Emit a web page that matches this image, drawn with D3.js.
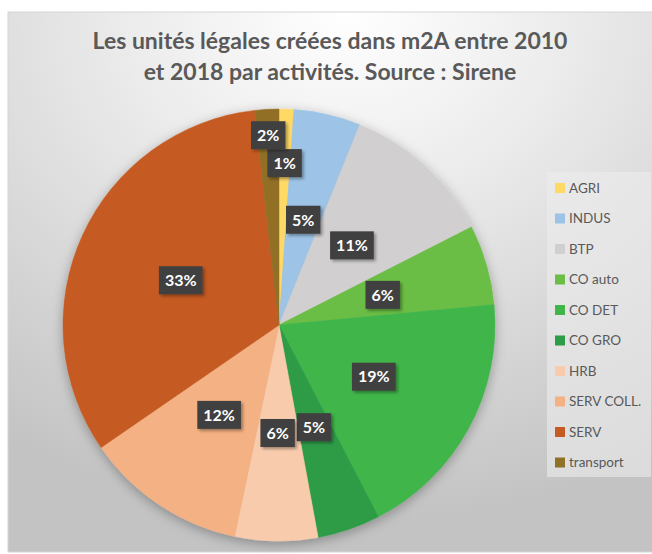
<!DOCTYPE html>
<html>
<head>
<meta charset="utf-8">
<script src="https://cdn.jsdelivr.net/npm/d3@7"></script>
<style>
  body { margin: 0; background: #fff; }
  text { font-family: Lato, "Open Sans", sans-serif; }
</style>
</head>
<body>
<svg width="652" height="554"></svg>
<script>
var categories = ["AGRI", "INDUS", "BTP", "CO auto", "CO DET", "CO GRO", "HRB", "SERV COLL.", "SERV", "transport"];
var values = [1.1, 5.0, 11.4, 6.0, 18.9, 4.7, 6.2, 12.1, 32.8, 1.8];
var colors = ["#ffd966", "#9dc3e6", "#d1cfcf", "#6bbd45", "#3fb54a", "#2d9c46", "#f8cbad", "#f4b183", "#c55a22", "#917028"];
var titleLines = ["Les unités légales créées dans m2A entre 2010", "et 2018 par activités. Source : Sirene"];

var svg = d3.select("svg");
var defs = svg.append("defs");

// chart area background
var bg = defs.append("radialGradient")
    .attr("id", "bg")
    .attr("cx", "52%").attr("cy", "0%").attr("r", "95%");
bg.append("stop").attr("offset", "0%").attr("stop-color", "#ffffff");
bg.append("stop").attr("offset", "35%").attr("stop-color", "#ececec");
bg.append("stop").attr("offset", "100%").attr("stop-color", "#c3c3c3");

var pieShadow = defs.append("filter").attr("id", "pieShadow")
    .attr("x", "-20%").attr("y", "-20%").attr("width", "140%").attr("height", "140%");
pieShadow.append("feDropShadow")
    .attr("dx", 0).attr("dy", 3).attr("stdDeviation", 6)
    .attr("flood-color", "#000").attr("flood-opacity", 0.3);

var boxShadow = defs.append("filter").attr("id", "boxShadow")
    .attr("x", "-30%").attr("y", "-30%").attr("width", "170%").attr("height", "170%");
boxShadow.append("feDropShadow")
    .attr("dx", 2).attr("dy", 2).attr("stdDeviation", 1.5)
    .attr("flood-color", "#000").attr("flood-opacity", 0.35);

svg.append("rect")
    .attr("x", 8).attr("y", 12)
    .attr("width", 652).attr("height", 540)
    .attr("fill", "url(#bg)")
    .attr("stroke", "#d6d6d6");

// title
svg.append("g").selectAll("text")
    .data(titleLines)
  .enter().append("text")
    .attr("x", 330)
    .attr("y", function(d, i) { return 49 + i * 31; })
    .attr("text-anchor", "middle")
    .attr("font-size", 23)
    .attr("font-weight", "bold")
    .attr("fill", "#595959")
    .text(function(d) { return d; });

// pie
var cx = 279, cy = 325, R = 216;
var total = d3.sum(values);
var pie = d3.pie().sort(null).value(function(d) { return d; });
var arcs = pie(values);
var arc = d3.arc().innerRadius(0).outerRadius(R);

var g = svg.append("g").attr("transform", "translate(" + cx + "," + cy + ")");

g.append("g")
    .attr("filter", "url(#pieShadow)")
  .selectAll("path")
    .data(arcs)
  .enter().append("path")
    .attr("d", arc)
    .attr("fill", function(d, i) { return colors[i]; })
    .attr("stroke", function(d, i) { return colors[i]; })
    .attr("stroke-width", 0.5);

// data labels: middle of the slice, tiny slices pushed out (best fit)
function labelRadius(d) {
  var share = d.value / total;
  if (share < 0.015) return 0.75 * R;
  if (share < 0.025) return 0.88 * R;
  return 0.5 * R;
}
var fmt = d3.format(".0%");

var lab = g.selectAll("g.lab")
    .data(arcs)
  .enter().append("g")
    .attr("class", "lab")
    .attr("transform", function(d) {
      var a = (d.startAngle + d.endAngle) / 2, r = labelRadius(d);
      return "translate(" + (r * Math.sin(a)) + "," + (-r * Math.cos(a)) + ")";
    });

lab.append("text")
    .attr("text-anchor", "middle")
    .attr("dy", "0.36em")
    .attr("font-size", 16)
    .attr("font-weight", "bold")
    .attr("fill", "#fff")
    .text(function(d) { return fmt(d.value / total); });

lab.each(function() {
  var t = d3.select(this).select("text");
  var bb = t.node().getBBox();
  d3.select(this).insert("rect", "text")
    .attr("x", bb.x - 6).attr("y", -14)
    .attr("width", bb.width + 12).attr("height", 28)
    .attr("fill", "#404040")
    .attr("filter", "url(#boxShadow)");
});

// legend
svg.append("rect")
    .attr("x", 547).attr("y", 172)
    .attr("width", 104).attr("height", 305)
    .attr("fill", "#ededed").attr("opacity", 0.6);

var leg = svg.append("g").selectAll("g")
    .data(categories)
  .enter().append("g")
    .attr("transform", function(d, i) { return "translate(555," + (188 + i * 30.5) + ")"; });

leg.append("rect")
    .attr("x", 0).attr("y", -5)
    .attr("width", 10).attr("height", 10)
    .attr("fill", function(d, i) { return colors[i]; });

leg.append("text")
    .attr("x", 14)
    .attr("dy", "0.36em")
    .attr("font-size", 13.5)
    .attr("fill", "#595959")
    .text(function(d) { return d; });
</script>
</body>
</html>
